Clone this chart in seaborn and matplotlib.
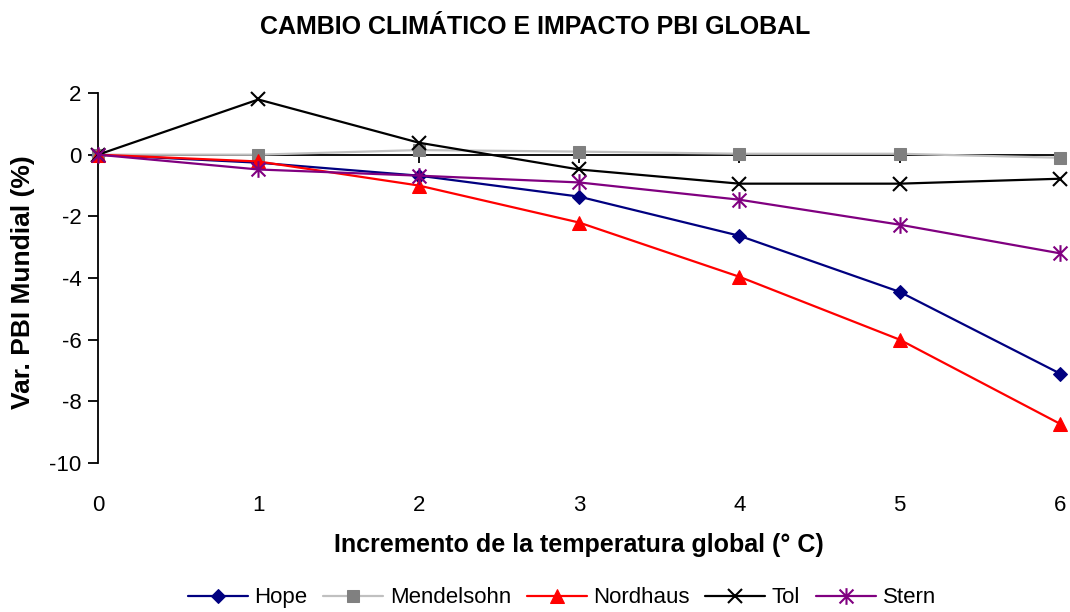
import pandas as pd
import matplotlib
matplotlib.use("Agg")
import matplotlib.pyplot as plt
from matplotlib.path import Path
import seaborn as sns

# Increase in global temperature (°C) and GDP impact (%) by study
temps = [0, 1, 2, 3, 4, 5, 6]
hope = [0, -0.26, -0.68, -1.36, -2.63, -4.45, -7.1]
mendelsohn = [0, 0.0, 0.15, 0.1, 0.03, 0.03, -0.1]
nordhaus = [0, -0.22, -1.0, -2.2, -3.96, -6.0, -8.73]
tol = [0, 1.79, 0.39, -0.48, -0.94, -0.94, -0.78]
stern = [0, -0.48, -0.68, -0.9, -1.46, -2.27, -3.2]

df = pd.DataFrame({'Temp': temps, 'Hope': hope, 'Mendelsohn': mendelsohn,
                   'Nordhaus': nordhaus, 'Tol': tol, 'Stern': stern})

sns.set_style('white')
plt.rcParams['font.family'] = ['Liberation Sans', 'DejaVu Sans']
plt.rcParams['axes.unicode_minus'] = False
plt.rcParams['text.color'] = 'black'
plt.rcParams['axes.labelcolor'] = 'black'
plt.rcParams['xtick.color'] = 'black'
plt.rcParams['ytick.color'] = 'black'

# Excel-like star: an X with a vertical bar
star = Path([(-1, -1), (1, 1), (-1, 1), (1, -1), (0, -1.2), (0, 1.2)],
            [Path.MOVETO, Path.LINETO, Path.MOVETO, Path.LINETO, Path.MOVETO, Path.LINETO])

fig = plt.figure(figsize=(10.7, 6.12), dpi=100)
ax = fig.add_axes([0.0916, 0.2435, 0.8991, 0.6045])

styles = {
    'Hope': dict(color='#000080', marker='D', markersize=7,
                 markeredgecolor='#000080'),
    'Mendelsohn': dict(color='#C0C0C0', marker='s', markersize=8,
                       markerfacecolor='#808080', markeredgecolor='#808080'),
    'Nordhaus': dict(color='#FF0000', marker='^', markersize=10,
                     markeredgecolor='#FF0000'),
    'Tol': dict(color='#000000', marker='x', markersize=10, markeredgewidth=1.5,
                markeredgecolor='#000000'),
    'Stern': dict(color='#800080', marker=star, markersize=12, markeredgewidth=1.5,
                  markeredgecolor='#800080'),
}

# zero reference line (Excel category axis crossing at 0)
ax.axhline(0, color='black', lw=1.3, zorder=1)

for name, kw in styles.items():
    sns.lineplot(data=df, x='Temp', y=name, ax=ax, label=name, lw=1.6,
                 clip_on=False, zorder=3, **kw)

ax.set_xlim(0, 6)
ax.set_ylim(-10, 2)
ax.set_yticks(range(-10, 3, 2))
ax.set_xticks(temps)

for s in ['top', 'right', 'bottom']:
    ax.spines[s].set_visible(False)
ax.spines['left'].set_color('black')
ax.spines['left'].set_linewidth(1.3)
ax.tick_params(axis='y', direction='out', length=7, width=1.3, color='black',
               left=True, labelsize=16, pad=5)
ax.tick_params(axis='x', length=0, labelsize=16, pad=23)

# tick marks hanging below the zero line
sec = ax.secondary_xaxis((0 - (-10)) / 12)
sec.xaxis.set_ticks_position('bottom')
sec.set_xticks(temps)
sec.set_xticklabels([])
sec.tick_params(axis='x', which='both', direction='out', length=6, width=1.3,
                color='black', top=False, bottom=True)
for s in sec.spines.values():
    s.set_visible(False)

ax.set_xlabel('Incremento de la temperatura global (° C)', fontsize=18,
              fontweight='bold')
ax.xaxis.set_label_coords(0.5, -0.19)
ax.set_ylabel('Var. PBI Mundial (%)', fontsize=19, fontweight='bold')
ax.yaxis.set_label_coords(-0.0655, 0.49)
fig.suptitle('CAMBIO CLIMÁTICO E IMPACTO PBI GLOBAL', fontsize=18,
             fontweight='bold', y=0.975)

ax.legend(loc='center', bbox_to_anchor=(0.525, 0.023), bbox_transform=fig.transFigure,
          ncol=5, frameon=False, fontsize=16, handlelength=2.7, columnspacing=0.7,
          handletextpad=0.3)

fig.savefig('out.png', dpi=100)
